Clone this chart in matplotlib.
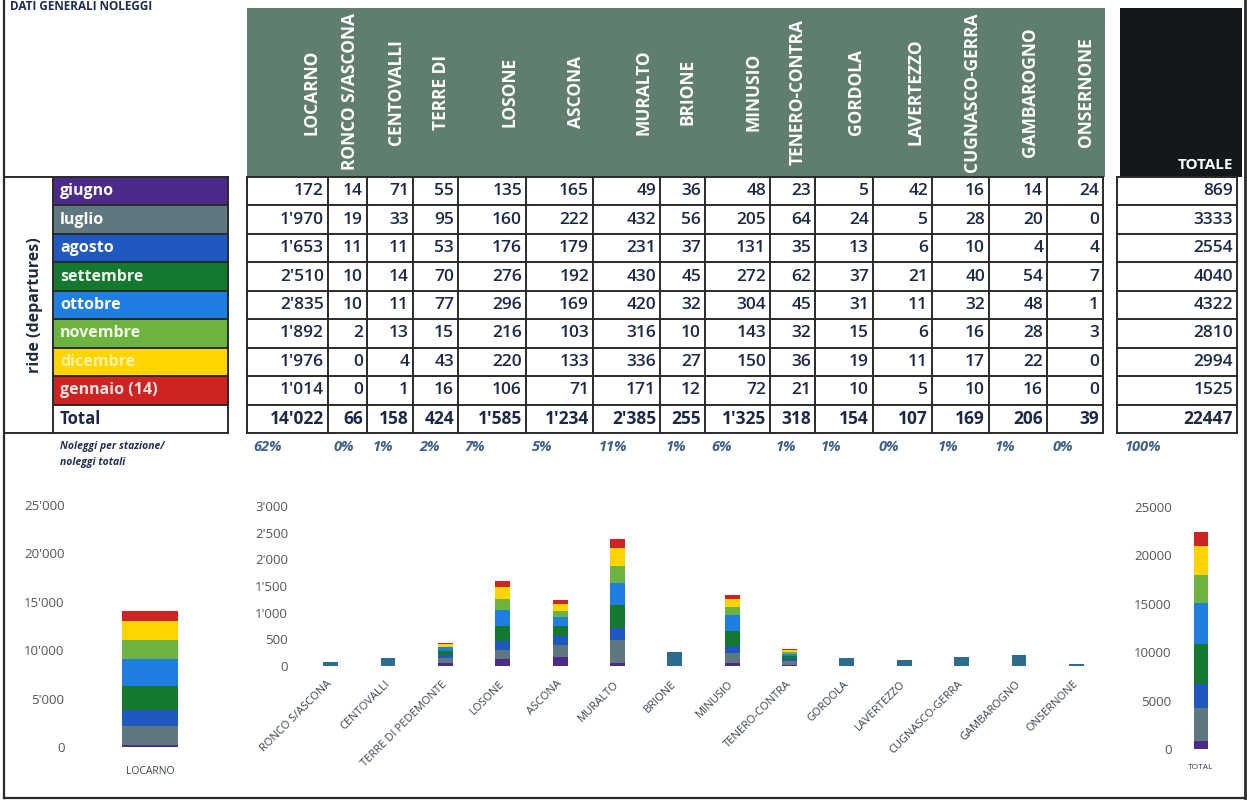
import matplotlib.pyplot as plt
from matplotlib.patches import Rectangle

plt.rcParams['font.family'] = ['Open Sans', 'DejaVu Sans']

# ---------------------------- DATA ----------------------------
stations = ['LOCARNO', 'RONCO S/ASCONA', 'CENTOVALLI', 'TERRE DI PEDEMONTE', 'LOSONE',
            'ASCONA', 'MURALTO', 'BRIONE', 'MINUSIO', 'TENERO-CONTRA', 'GORDOLA',
            'LAVERTEZZO', 'CUGNASCO-GERRA', 'GAMBAROGNO', 'ONSERNONE']
# header cell of TERRE DI PEDEMONTE only shows the first line
header_labels = ['LOCARNO', 'RONCO S/ASCONA', 'CENTOVALLI', 'TERRE DI', 'LOSONE',
                 'ASCONA', 'MURALTO', 'BRIONE', 'MINUSIO', 'TENERO-CONTRA', 'GORDOLA',
                 'LAVERTEZZO', 'CUGNASCO-GERRA', 'GAMBAROGNO', 'ONSERNONE']
months = ['giugno', 'luglio', 'agosto', 'settembre', 'ottobre', 'novembre',
          'dicembre', 'gennaio (14)']

giugno = [172, 14, 71, 55, 135, 165, 49, 36, 48, 23, 5, 42, 16, 14, 24]
luglio = [1970, 19, 33, 95, 160, 222, 432, 56, 205, 64, 24, 5, 28, 20, 0]
agosto = [1653, 11, 11, 53, 176, 179, 231, 37, 131, 35, 13, 6, 10, 4, 4]
settembre = [2510, 10, 14, 70, 276, 192, 430, 45, 272, 62, 37, 21, 40, 54, 7]
ottobre = [2835, 10, 11, 77, 296, 169, 420, 32, 304, 45, 31, 11, 32, 48, 1]
novembre = [1892, 2, 13, 15, 216, 103, 316, 10, 143, 32, 15, 6, 16, 28, 3]
dicembre = [1976, 0, 4, 43, 220, 133, 336, 27, 150, 36, 19, 11, 17, 22, 0]
gennaio = [1014, 0, 1, 16, 106, 71, 171, 12, 72, 21, 10, 5, 10, 16, 0]
rows = [giugno, luglio, agosto, settembre, ottobre, novembre, dicembre, gennaio]

# stations whose bar shows up as a single flat colour in the chart
mono_stations = ['RONCO S/ASCONA', 'CENTOVALLI', 'BRIONE', 'GORDOLA', 'LAVERTEZZO',
                 'CUGNASCO-GERRA', 'GAMBAROGNO', 'ONSERNONE']

# ---------------------------- STYLE ----------------------------
month_colors = ['#4b2a8a', '#5f7880', '#1f58c0', '#14782f', '#1f7fe0', '#6cb33f',
                '#ffd400', '#cf2222']
month_text = ['white', 'white', 'white', '#f0f5ee', 'white', '#f4fbe8', '#fff2a0', '#fbe3e3']
mono_color = '#2f6b8c'
header_green = '#5f7e6e'
num_color = '#1b2847'
pct_color = '#3d5f8a'
line_color = '#2a2a2a'

W, H = 1247, 802
fig = plt.figure(figsize=(W / 100, H / 100), dpi=100)
bg = fig.add_axes([0, 0, 1, 1])
bg.set_xlim(0, W)
bg.set_ylim(H, 0)
bg.axis('off')


def fmt(v):
    return f"{v:,}".replace(',', "'")


col_edges = [247, 328, 367, 413, 458, 526, 593, 660, 705, 770, 815, 873, 932, 989, 1047, 1103]
row_top, row_h = 177, 28.45
n_rows = len(months) + 1
row_edges = [row_top + i * row_h for i in range(n_rows + 1)]
tot_left, tot_right = 1117, 1237

# title
bg.text(10, 0.5, 'DATI GENERALI NOLEGGI', fontsize=8.5, fontweight='bold', color='#1f2b4f',
        va='top', ha='left')

# header blocks
bg.add_patch(Rectangle((247, 8), 1105 - 247, row_top - 8, color=header_green, lw=0))
bg.add_patch(Rectangle((1120, 8), 1242 - 1120, row_top - 8, color='#14181c', lw=0))
for i, lab in enumerate(header_labels):
    bg.text(col_edges[i + 1] - 17, 92, lab, rotation=90, ha='center', va='center',
            color='white', fontsize=12.5, fontweight='bold')
bg.text(1233, 165, 'TOTALE', ha='right', va='center', color='white', fontsize=11,
        fontweight='bold')

# month label cells
for r, m in enumerate(months):
    y0 = row_edges[r]
    bg.add_patch(Rectangle((53, y0), 228 - 53, row_h, color=month_colors[r], lw=0))
    bg.text(60, y0 + row_h / 2, m, color=month_text[r], fontsize=11.5, fontweight='bold',
            va='center', ha='left')
bg.text(60, row_edges[-2] + row_h / 2, 'Total', color=num_color, fontsize=12,
        fontweight='bold', va='center', ha='left')
bg.text(35, (row_edges[0] + row_edges[-1]) / 2, 'ride (departures)', rotation=90,
        ha='center', va='center', color='#1f2b3f', fontsize=11.5, fontweight='bold')

# table values
station_totals = [sum(col) for col in zip(*rows)]
month_totals = [sum(r) for r in rows]
grand_total = sum(month_totals)
for r, vals in enumerate(rows + [station_totals]):
    yc = row_edges[r] + row_h / 2
    bold = r == len(rows)
    for c, v in enumerate(vals):
        bg.text(col_edges[c + 1] - 4, yc, fmt(v), ha='right', va='center',
                color=num_color, fontsize=12.5, fontweight='bold' if bold else 'semibold')
    tv = grand_total if bold else month_totals[r]
    bg.text(tot_right - 4, yc, str(tv), ha='right', va='center', color=num_color,
            fontsize=12.5, fontweight='bold' if bold else 'semibold')

# grid lines
for y in row_edges:
    bg.plot([col_edges[0], col_edges[-1]], [y, y], color=line_color, lw=1.4)
    bg.plot([tot_left, tot_right], [y, y], color=line_color, lw=1.4)
    bg.plot([53, 228], [y, y], color=line_color, lw=1.4)
for x in col_edges:
    bg.plot([x, x], [row_edges[0], row_edges[-1]], color=line_color, lw=1.4)
for x in (tot_left, tot_right, 53, 228):
    bg.plot([x, x], [row_edges[0], row_edges[-1]], color=line_color, lw=1.4)
bg.plot([4, 53], [row_edges[0], row_edges[0]], color=line_color, lw=1.4)
bg.plot([4, 53], [row_edges[-1], row_edges[-1]], color=line_color, lw=1.4)

# page borders
bg.plot([4, 4], [0, 798], color=line_color, lw=1.6)
bg.plot([1245, 1245], [0, 798], color=line_color, lw=2)
bg.plot([4, 1245], [798, 798], color=line_color, lw=1.6)

# percentages row
for c, v in enumerate(station_totals):
    bg.text(col_edges[c] + 6, 447, f"{round(v / grand_total * 100)}%", ha='left',
            va='center', color=pct_color, fontsize=10.5, style='italic', fontweight='bold')
bg.text(tot_left + 8, 447, '100%', ha='left', va='center', color=pct_color,
        fontsize=10.5, style='italic', fontweight='bold')
bg.text(60, 446, 'Noleggi per stazione/', ha='left', va='center', color='#1f2f4f',
        fontsize=7.5, style='italic', fontweight='bold')
bg.text(60, 462, 'noleggi totali', ha='left', va='center', color='#1f2f4f',
        fontsize=7.5, style='italic', fontweight='bold')


# ---------------------------- CHARTS ----------------------------
def px_axes(x0, y0, x1, y1):
    ax = fig.add_axes([x0 / W, 1 - y1 / H, (x1 - x0) / W, (y1 - y0) / H])
    ax.patch.set_alpha(0)
    for s in ax.spines.values():
        s.set_visible(False)
    ax.tick_params(length=0, colors='#555555', labelsize=9.5)
    return ax


# LOCARNO
ax1 = px_axes(70, 505, 230, 747)
bottom = 0
for r, vals in enumerate(rows):
    ax1.bar(0, vals[0], bottom=bottom, width=0.35, color=month_colors[r], lw=0)
    bottom += vals[0]
ax1.set_xlim(-0.5, 0.5)
ax1.set_ylim(0, 25000)
ax1.set_yticks(range(0, 25001, 5000))
ax1.set_yticklabels([fmt(v) for v in range(0, 25001, 5000)])
ax1.set_xticks([0])
ax1.set_xticklabels([stations[0]], fontsize=7.5, color='#3a4050')
ax1.tick_params(axis='x', pad=14)
ax1.tick_params(axis='y', pad=4)

# other stations
ax2 = px_axes(302, 506, 1105, 666)
others = stations[1:]
bottoms = [0] * len(others)
for r, vals in enumerate(rows):
    cols = [mono_color if s in mono_stations else month_colors[r] for s in others]
    ax2.bar(range(len(others)), vals[1:], bottom=bottoms, width=0.26, color=cols, lw=0)
    bottoms = [b + v for b, v in zip(bottoms, vals[1:])]
ax2.set_xlim(-0.5, len(others) - 0.5)
ax2.set_ylim(0, 3000)
ax2.set_yticks(range(0, 3001, 500))
ax2.set_yticklabels([fmt(v) for v in range(0, 3001, 500)])
ax2.tick_params(axis='y', pad=10)
ax2.set_xticks(range(len(others)))
ax2.set_xticklabels(others, rotation=45, ha='right', va='center', rotation_mode='anchor',
                    fontsize=8, color='#3a4050')
ax2.tick_params(axis='x', pad=12)

# TOTAL
ax3 = px_axes(1180, 507, 1222, 749)
bottom = 0
for r, v in enumerate(month_totals):
    ax3.bar(0, v, bottom=bottom, width=0.31, color=month_colors[r], lw=0)
    bottom += v
ax3.set_xlim(-0.5, 0.5)
ax3.set_ylim(0, 25000)
ax3.set_yticks(range(0, 25001, 5000))
ax3.set_yticklabels([str(v) for v in range(0, 25001, 5000)])
ax3.tick_params(axis='y', pad=6)
ax3.set_xticks([0])
ax3.set_xticklabels(['TOTAL'], fontsize=6, color='#3a4050')
ax3.tick_params(axis='x', pad=11)

fig.savefig('out.png', dpi=100)
